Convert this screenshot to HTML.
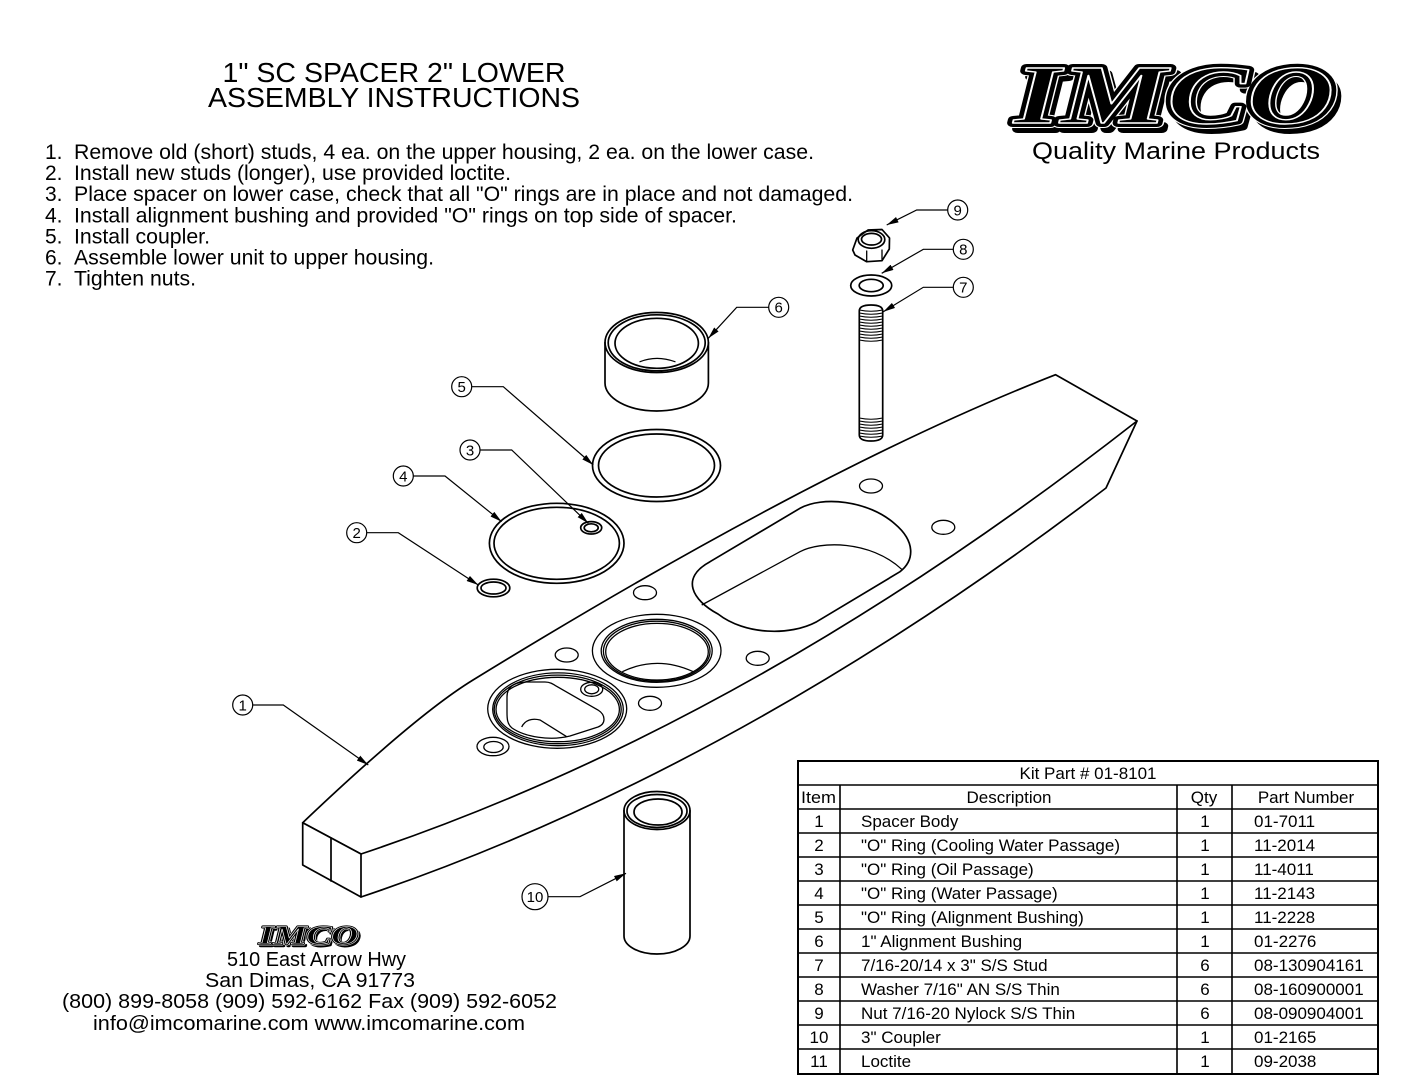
<!DOCTYPE html>
<html>
<head>
<meta charset="utf-8">
<style>
html,body{margin:0;padding:0;background:#fff;}
svg{display:block;}
.t{font-family:"Liberation Sans",Arial,sans-serif;fill:#000;}
.ln{fill:none;stroke:#000;stroke-width:1.7;stroke-linejoin:round;stroke-linecap:round;}
.lt{fill:none;stroke:#000;stroke-width:1.3;}
.wf{fill:#fff;stroke:#000;stroke-width:1.7;stroke-linejoin:round;}
.ld{fill:none;stroke:#000;stroke-width:1.2;}
.cn{font-family:"Liberation Sans Narrow","Liberation Sans",sans-serif;font-size:15px;fill:#000;text-anchor:middle;}
</style>
</head>
<body>
<svg width="1408" height="1088" viewBox="0 0 1408 1088" xmlns="http://www.w3.org/2000/svg">
<defs>
<marker id="ah" viewBox="0 0 12 6" refX="12" refY="3" markerWidth="12" markerHeight="6" markerUnits="userSpaceOnUse" orient="auto">
<path d="M0,0 L12,3 L0,6 z" fill="#000"/>
</marker>
</defs>
<rect width="1408" height="1088" fill="#fff"/>

<!-- Title -->
<text class="t" x="394" y="82" font-size="28" text-anchor="middle" textLength="343" lengthAdjust="spacingAndGlyphs">1" SC SPACER 2" LOWER</text>
<text class="t" x="394" y="107" font-size="28" text-anchor="middle" textLength="372" lengthAdjust="spacingAndGlyphs">ASSEMBLY INSTRUCTIONS</text>

<!-- Instructions -->
<g class="t" font-size="21">
<text x="45" y="159">1.</text><text x="74" y="159" textLength="740" lengthAdjust="spacingAndGlyphs">Remove old (short) studs, 4 ea. on the upper housing, 2 ea. on the lower case.</text>
<text x="45" y="180.1">2.</text><text x="74" y="180.1" textLength="437" lengthAdjust="spacingAndGlyphs">Install new studs (longer), use provided loctite.</text>
<text x="45" y="201.2">3.</text><text x="74" y="201.2" textLength="779" lengthAdjust="spacingAndGlyphs">Place spacer on lower case, check that all "O" rings are in place and not damaged.</text>
<text x="45" y="222.3">4.</text><text x="74" y="222.3" textLength="663" lengthAdjust="spacingAndGlyphs">Install alignment bushing and provided "O" rings on top side of spacer.</text>
<text x="45" y="243.4">5.</text><text x="74" y="243.4" textLength="136" lengthAdjust="spacingAndGlyphs">Install coupler.</text>
<text x="45" y="264.5">6.</text><text x="74" y="264.5" textLength="360" lengthAdjust="spacingAndGlyphs">Assemble lower unit to upper housing.</text>
<text x="45" y="285.6">7.</text><text x="74" y="285.6" textLength="122" lengthAdjust="spacingAndGlyphs">Tighten nuts.</text>
</g>

<!-- Big IMCO logo -->
<g font-family="'Liberation Serif',serif" font-weight="bold" font-style="italic" font-size="84">
<text x="1019" y="129" textLength="320" lengthAdjust="spacingAndGlyphs" fill="#000" stroke="#000" stroke-width="8" stroke-linejoin="round">IMCO</text>
<text x="1014" y="123" textLength="320" lengthAdjust="spacingAndGlyphs" fill="#fff" stroke="#fff" stroke-width="10" stroke-linejoin="round">IMCO</text>
<text x="1014" y="123" textLength="320" lengthAdjust="spacingAndGlyphs" fill="#000" stroke="#000" stroke-width="8" stroke-linejoin="round">IMCO</text>
<text x="1014" y="123" textLength="320" lengthAdjust="spacingAndGlyphs" fill="#000" stroke="#fff" stroke-width="1.4" stroke-linejoin="round">IMCO</text>
</g>
<text class="t" x="1032" y="159" font-size="24" textLength="288" lengthAdjust="spacingAndGlyphs">Quality Marine Products</text>

<!-- Spacer body -->
<path class="wf" d="M302.7,822.7 Q416,715 473,680 Q820,466.6 1055.6,374.7 L1137,421 Q749,724.4 361,854 Z"/>
<path class="wf" d="M302.7,822.7 L361,854 L361,897 L302.7,865 Z"/>
<path class="ln" d="M331,838 L331,881"/>
<path class="ln" d="M361,897 Q733.5,771.8 1106,488 L1137,421"/>

<!-- holes on top face -->
<g class="lt">
<ellipse cx="871" cy="486" rx="11.5" ry="7"/>
<ellipse cx="943.3" cy="527.3" rx="11.5" ry="7"/>
<ellipse cx="645" cy="592.7" rx="11.5" ry="7"/>
<ellipse cx="566.7" cy="655" rx="11.5" ry="7"/>
<ellipse cx="757.7" cy="658.3" rx="11.5" ry="7"/>
<ellipse cx="650" cy="703.3" rx="11.5" ry="7"/>
</g>

<!-- slot -->
<path class="ln" d="M710,561.7 L800,508.3 C822,496 868,500 895,524 C915,541 915,560 900,571.7 L816.7,621.7 C790,636 745,635 718,614 C692,600 680,578 710,561.7 Z"/>
<path class="lt" d="M701.7,605 L800,551.7 C820,541 870,540 901.7,569.3"/>

<!-- center bore -->
<g class="lt">
<ellipse cx="656.7" cy="650.8" rx="64.3" ry="36.5"/>
<ellipse cx="656.7" cy="650.8" rx="55.5" ry="31.5"/>
<ellipse cx="656.7" cy="651.2" rx="53.3" ry="30"/>
<ellipse cx="657" cy="651.7" rx="51.3" ry="28.3"/>
<path d="M622.3,671.7 Q657,655 693.3,671.7"/>
</g>

<!-- left bore -->
<g class="lt">
<ellipse cx="557.2" cy="708.8" rx="69.5" ry="39.5"/>
<ellipse cx="558" cy="709.3" rx="65.3" ry="36.4"/>
<ellipse cx="557.7" cy="709.4" rx="63.5" ry="34.3"/>
<ellipse cx="557.7" cy="709.5" rx="61.7" ry="32.2"/>
<path d="M507,712 L507,697 C507,686 515,682 527,682 L545,682 C550,682 553,684 556,686 L598,710 C606,715 606,724 598,727 L570,736 C550,741 525,737 512,728 C507,724 507,718 507,712 Z"/>
<path d="M521.7,727 C525,720 532,718 540,720 L566.7,736.7"/>
<ellipse cx="591.7" cy="689.3" rx="11" ry="7"/>
<ellipse cx="591.7" cy="689.3" rx="7" ry="4.5"/>
<ellipse cx="493" cy="746.5" rx="16" ry="9.2"/>
<ellipse cx="493.5" cy="747" rx="9.7" ry="5.5"/>
</g>

<!-- O-rings -->
<g class="ln">
<ellipse cx="656.5" cy="465.5" rx="64" ry="36"/>
<ellipse cx="656.5" cy="465.5" rx="58" ry="31.5"/>
<ellipse cx="556.7" cy="543.3" rx="67.3" ry="40"/>
<ellipse cx="556.7" cy="543.3" rx="62.7" ry="36"/>
<ellipse cx="591.2" cy="527.8" rx="10.5" ry="6.2"/>
<ellipse cx="591.2" cy="527.8" rx="7" ry="4"/>
<ellipse cx="493.5" cy="588" rx="16.3" ry="8.8"/>
<ellipse cx="493.5" cy="588" rx="12.5" ry="6"/>
</g>

<!-- Bushing 6 -->
<g class="ln">
<path d="M605,342.5 L605,383 A51.7,28 0 0 0 708.4,383 L708.4,342.5"/>
<ellipse cx="656.7" cy="342.5" rx="51.7" ry="30"/>
<ellipse cx="656.7" cy="342.8" rx="48.5" ry="28"/>
<ellipse cx="656.7" cy="343.3" rx="41.7" ry="25"/>
<path d="M640,361.7 Q656.7,355 675,361.7" stroke-width="1.3"/>
</g>

<!-- Nut 9 -->
<g class="ln">
<path d="M852.7,250 L857,238 L868,230 L882,229.5 L889.5,238 L889.3,249 L882,260.7 L866.7,261.7 L855,255 Z"/>
<path class="lt" d="M866.7,251 L866.7,261.7 M882,250 L882,260.7"/>
<ellipse cx="871.5" cy="239.5" rx="13.3" ry="8.8"/>
<ellipse cx="871.5" cy="239.2" rx="10" ry="5.8"/>
</g>

<!-- Washer 8 -->
<g class="ln">
<ellipse cx="871.2" cy="285.5" rx="20.5" ry="10.5"/>
<ellipse cx="871.2" cy="285.5" rx="12" ry="6.2"/>
</g>

<!-- Stud 7 -->
<path class="wf" d="M859.3,311 Q859.3,305 871,305 Q882.7,305 882.7,311 L882.7,435 Q882.7,441 871,441 Q859.3,441 859.3,435 Z"/>
<g fill="none" stroke="#000" stroke-width="1.1">
<path d="M859.3,310 Q871,312.5 882.7,310 M859.3,313 Q871,315.5 882.7,313 M859.3,316 Q871,318.5 882.7,316 M859.3,319 Q871,321.5 882.7,319 M859.3,322 Q871,324.5 882.7,322 M859.3,325 Q871,327.5 882.7,325 M859.3,328 Q871,330.5 882.7,328 M859.3,331 Q871,333.5 882.7,331 M859.3,334 Q871,336.5 882.7,334 M859.3,337 Q871,339.5 882.7,337 M859.3,340 Q871,342.5 882.7,340"/>
<path d="M859.3,418 Q871,420.5 882.7,418 M859.3,421 Q871,423.5 882.7,421 M859.3,424 Q871,426.5 882.7,424 M859.3,427 Q871,429.5 882.7,427 M859.3,430 Q871,432.5 882.7,430 M859.3,433 Q871,435.5 882.7,433 M859.3,436 Q871,438.5 882.7,436"/>
</g>

<!-- Coupler 10 -->
<g class="ln">
<path d="M624,810.5 L624,936 A33,18 0 0 0 690,936 L690,810.5"/>
<ellipse cx="657" cy="810.5" rx="33" ry="19"/>
<ellipse cx="657" cy="811" rx="30" ry="16.5"/>
<ellipse cx="658" cy="812" rx="24" ry="13"/>
</g>

<!-- Leaders -->
<g class="ld">
<polyline points="252.7,705 283.3,705 368.3,765" marker-end="url(#ah)"/>
<polyline points="366.7,532.7 398.3,532.7 478.3,585" marker-end="url(#ah)"/>
<polyline points="480,450 511.7,450 588.3,523.3" marker-end="url(#ah)"/>
<polyline points="413.3,476 445,476 501.7,521.7" marker-end="url(#ah)"/>
<polyline points="471.7,386.7 503.3,386.7 593.3,465" marker-end="url(#ah)"/>
<polyline points="768.7,307.3 736.7,307.3 708.3,338.3" marker-end="url(#ah)"/>
<polyline points="953.3,287.3 923.3,287.3 883.3,311.7" marker-end="url(#ah)"/>
<polyline points="953.3,249.3 923.3,249.3 881.7,273.3" marker-end="url(#ah)"/>
<polyline points="947.7,210 916.7,210 886.7,225" marker-end="url(#ah)"/>
<polyline points="548,896.7 580,896.7 626,873.3" marker-end="url(#ah)"/>
<circle cx="242.7" cy="705" r="10"/>
<circle cx="356.7" cy="532.7" r="10"/>
<circle cx="470" cy="450" r="10"/>
<circle cx="403.3" cy="476" r="10"/>
<circle cx="461.7" cy="386.7" r="10"/>
<circle cx="778.7" cy="307.3" r="10"/>
<circle cx="963.3" cy="287.3" r="10"/>
<circle cx="963.3" cy="249.3" r="10"/>
<circle cx="957.7" cy="210" r="10"/>
<circle cx="535" cy="896.7" r="13"/>
</g>
<g>
<text class="cn" x="242.7" y="710.3">1</text>
<text class="cn" x="356.7" y="538">2</text>
<text class="cn" x="470" y="455.3">3</text>
<text class="cn" x="403.3" y="481.3">4</text>
<text class="cn" x="461.7" y="392">5</text>
<text class="cn" x="778.7" y="312.6">6</text>
<text class="cn" x="963.3" y="292.6">7</text>
<text class="cn" x="963.3" y="254.6">8</text>
<text class="cn" x="957.7" y="215.3">9</text>
<text class="cn" x="535" y="902">10</text>
</g>

<!-- Small IMCO + address -->
<g font-family="'Liberation Serif',serif" font-weight="bold" font-style="italic" font-size="26">
<text x="261" y="946" textLength="99" lengthAdjust="spacingAndGlyphs" fill="#000" stroke="#000" stroke-width="2.4" stroke-linejoin="round">IMCO</text>
<text x="259" y="944" textLength="99" lengthAdjust="spacingAndGlyphs" fill="#fff" stroke="#fff" stroke-width="3" stroke-linejoin="round">IMCO</text>
<text x="259" y="944" textLength="99" lengthAdjust="spacingAndGlyphs" fill="#000" stroke="#000" stroke-width="2.2" stroke-linejoin="round">IMCO</text>
<text x="259" y="944" textLength="99" lengthAdjust="spacingAndGlyphs" fill="#000" stroke="#fff" stroke-width="0.5">IMCO</text>
</g>
<g class="t" font-size="20" text-anchor="middle" style="white-space:pre">
<text x="316.5" y="966" textLength="179" lengthAdjust="spacingAndGlyphs">510 East Arrow Hwy</text>
<text x="310" y="987" textLength="210" lengthAdjust="spacingAndGlyphs">San Dimas, CA 91773</text>
<text x="309.5" y="1008" textLength="495" lengthAdjust="spacingAndGlyphs">(800) 899-8058 (909) 592-6162  Fax (909) 592-6052</text>
<text x="309" y="1030" textLength="432" lengthAdjust="spacingAndGlyphs">info@imcomarine.com  www.imcomarine.com</text>
</g>

<!-- Table -->
<g fill="none" stroke="#000">
<rect x="798" y="761" width="580" height="313" stroke-width="2"/>
<path stroke-width="1.6" d="M798,785 H1378 M798,809 H1378 M798,833 H1378 M798,857 H1378 M798,881 H1378 M798,905 H1378 M798,929 H1378 M798,953 H1378 M798,977 H1378 M798,1001 H1378 M798,1025 H1378 M798,1049 H1378"/>
<path stroke-width="1.6" d="M840,785 V1074 M1177,785 V1074 M1232,785 V1074"/>
</g>
<g class="t" font-size="17">
<text x="1088" y="779" text-anchor="middle">Kit Part # 01-8101</text>
<text x="801" y="803" textLength="35" lengthAdjust="spacingAndGlyphs">Item</text>
<text x="1009" y="803" text-anchor="middle">Description</text>
<text x="1204" y="803" text-anchor="middle">Qty</text>
<text x="1306" y="803" text-anchor="middle">Part Number</text>
</g>
<g class="t" font-size="17">
<g text-anchor="middle">
<text x="819" y="827">1</text><text x="819" y="851">2</text><text x="819" y="875">3</text><text x="819" y="899">4</text><text x="819" y="923">5</text><text x="819" y="947">6</text><text x="819" y="971">7</text><text x="819" y="995">8</text><text x="819" y="1019">9</text><text x="819" y="1043">10</text><text x="819" y="1067">11</text>
<text x="1205" y="827">1</text><text x="1205" y="851">1</text><text x="1205" y="875">1</text><text x="1205" y="899">1</text><text x="1205" y="923">1</text><text x="1205" y="947">1</text><text x="1205" y="971">6</text><text x="1205" y="995">6</text><text x="1205" y="1019">6</text><text x="1205" y="1043">1</text><text x="1205" y="1067">1</text>
</g>
<text x="861" y="827">Spacer Body</text>
<text x="861" y="851">"O" Ring (Cooling Water Passage)</text>
<text x="861" y="875">"O" Ring (Oil Passage)</text>
<text x="861" y="899">"O" Ring (Water Passage)</text>
<text x="861" y="923">"O" Ring (Alignment Bushing)</text>
<text x="861" y="947">1" Alignment Bushing</text>
<text x="861" y="971">7/16-20/14 x 3" S/S Stud</text>
<text x="861" y="995">Washer 7/16" AN S/S Thin</text>
<text x="861" y="1019">Nut 7/16-20 Nylock S/S Thin</text>
<text x="861" y="1043">3" Coupler</text>
<text x="861" y="1067">Loctite</text>
<text x="1254" y="827">01-7011</text>
<text x="1254" y="851">11-2014</text>
<text x="1254" y="875">11-4011</text>
<text x="1254" y="899">11-2143</text>
<text x="1254" y="923">11-2228</text>
<text x="1254" y="947">01-2276</text>
<text x="1254" y="971">08-130904161</text>
<text x="1254" y="995">08-160900001</text>
<text x="1254" y="1019">08-090904001</text>
<text x="1254" y="1043">01-2165</text>
<text x="1254" y="1067">09-2038</text>
</g>
</svg>
</body>
</html>
